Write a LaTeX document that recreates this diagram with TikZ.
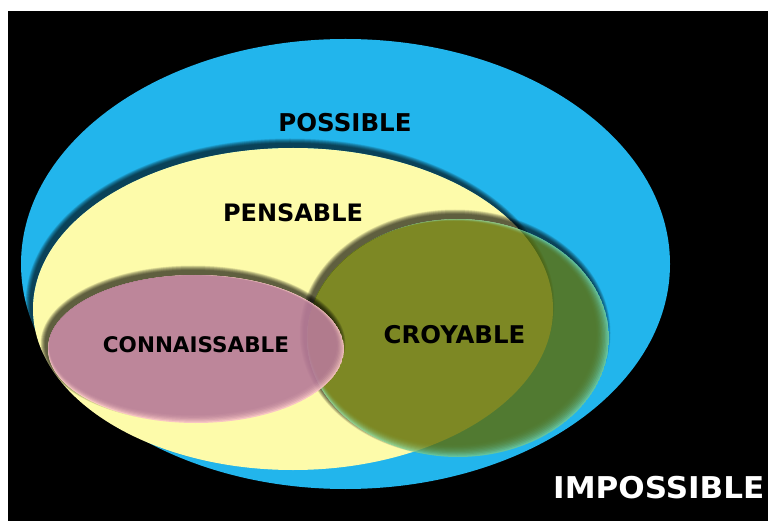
\documentclass[tikz,border=0pt]{standalone}
\usepackage{fontspec}
\setmainfont{DejaVu Sans}
\definecolor{blueC}{RGB}{34,181,236}
\definecolor{yellowC}{RGB}{253,251,170}
\definecolor{pinkC}{RGB}{183,122,153}
\definecolor{pinkRim}{RGB}{248,192,198}
\definecolor{greenC}{RGB}{93,108,3}
\definecolor{greenRim}{RGB}{116,199,141}
\newcommand\myshadow[4]{%
  \begin{scope}[even odd rule]
    \clip (-10,-10) rectangle (800,540) (#1,#2) ellipse [x radius=#3pt, y radius=#4pt];
    \foreach \k in {0,...,9}{%
      \fill[black,opacity=0.09] ({#1-3},{#2-5}) ellipse [x radius={(#3+0.5*\k)*1pt}, y radius={(#4+0.5*\k)*1pt}];
    }%
  \end{scope}%
}
\begin{document}
\begin{tikzpicture}[x=1pt,y=-1pt,
  lbl/.style={font=\bfseries\fontsize{24}{24}\selectfont, inner sep=0pt, anchor=base}]
\useasboundingbox (0,0) rectangle (768,521);
\fill[white] (0,0) rectangle (768,521);
\fill[black] (8,11) rectangle (768,521);
% POSSIBLE
\fill[blueC] (345.5,264) ellipse [x radius=324.5pt, y radius=225pt];
% PENSABLE
\myshadow{293}{309}{260}{161}
\fill[yellowC] (293,309) ellipse [x radius=260pt, y radius=161pt];
% CROYABLE
\myshadow{458}{338}{151}{119}
\begin{scope}[transparency group, opacity=0.8]
  \clip (458,338) ellipse [x radius=151pt, y radius=119pt];
  \fill[greenRim] (458,338) ellipse [x radius=151pt, y radius=119pt];
  \foreach \k/\c in {1/19,2/36,3/51,4/64,5/75,6/84,7/91,8/96,9/99,10/100}{
    \fill[greenC!\c!greenRim] ({458-0.6*\k},{338-0.5*\k}) ellipse [x radius={(151-0.75*\k)*1pt}, y radius={(119-0.75*\k)*1pt}];
  }
\end{scope}
% CONNAISSABLE
\myshadow{196}{349}{148}{74}
\begin{scope}[transparency group, opacity=0.9]
  \clip (196,349) ellipse [x radius=148pt, y radius=74pt];
  \fill[pinkRim] (196,349) ellipse [x radius=148pt, y radius=74pt];
  \foreach \k/\c in {1/30,2/52,3/70,4/84,5/94,6/100}{
    \fill[pinkC!\c!pinkRim] ({196-0.5*\k},{349-0.6*\k}) ellipse [x radius={(148-0.7*\k)*1pt}, y radius={(74-0.7*\k)*1pt}];
  }
\end{scope}
% labels
\node[lbl, font=\bfseries\fontsize{24.5}{24}\selectfont] (possible) at (345,132) {POSSIBLE};
\node[lbl] (pensable) at (293,222) {PENSABLE};
\node[lbl, font=\bfseries\fontsize{21.5}{22}\selectfont] (connaissable) at (196,352) {CONNAISSABLE};
\node[lbl, font=\bfseries\fontsize{24.4}{24}\selectfont] (croyable) at (454.5,343) {CROYABLE};
\node[lbl, anchor=base west, text=white, xscale=1.035, font=\bfseries\fontsize{30}{30}\selectfont] (impossible) at (553,498) {IMPOSSIBLE};
\end{tikzpicture}
\end{document}
